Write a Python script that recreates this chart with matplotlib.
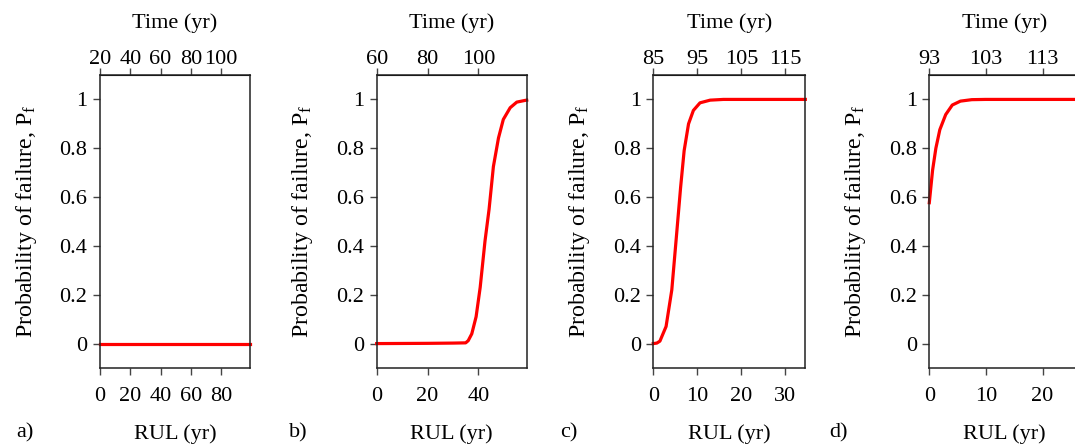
import numpy as np
import matplotlib.pyplot as plt

plt.rcParams['font.family'] = ['Liberation Serif', 'DejaVu Serif']
plt.rcParams['font.size'] = 16
plt.rcParams['mathtext.fontset'] = 'custom'
plt.rcParams['mathtext.rm'] = 'Liberation Serif'
plt.rcParams['mathtext.it'] = 'Liberation Serif:italic'

# Panel a: no failure at all
rul_a = [0, 20, 40, 60, 80, 99]
pf_a = [0, 0, 0, 0, 0, 0]

# Panel b
rul_b = [0, 10, 20, 30, 35, 36, 37.4, 39.1, 40.7, 42.6, 44.2, 45.9, 47.9,
         49.8, 52.5, 55.1, 58.4, 59]
pf_b = [0, 0.0005, 0.001, 0.002, 0.003, 0.012, 0.04, 0.11, 0.23, 0.42, 0.55,
        0.725, 0.842, 0.918, 0.966, 0.989, 0.996, 0.997]

# Panel c
rul_c = [0, 0.8, 1.5, 2.9, 4.2, 5.3, 6.2, 7.0, 8.0, 9.1, 10.6, 12.9, 15.9, 34.5]
pf_c = [0, 0.002, 0.01, 0.07, 0.22, 0.45, 0.64, 0.79, 0.90, 0.955, 0.986,
        0.997, 1.0, 1.0]

# Panel d
rul_d = [0, 0.58, 1.16, 1.86, 2.9, 4.06, 5.5, 7.5, 9.9, 26.5]
pf_d = [0.577, 0.71, 0.80, 0.876, 0.938, 0.977, 0.993, 0.999, 1.0, 1.0]

# time offset (Time = RUL + offset), x limits and tick values
offsets = [20, 60, 85, 93]
xmax = [99, 59, 34.5, 26.5]
rul_ticks = [[0, 20, 40, 60, 80], [0, 20, 40], [0, 10, 20, 30], [0, 10, 20]]
time_ticks = [[20, 40, 60, 80, 100], [60, 80, 100], [85, 95, 105, 115],
              [93, 103, 113]]
y_ticks = [0, 0.2, 0.4, 0.6, 0.8, 1]
y_ticklabels = ['0', '0.2', '0.4', '0.6', '0.8', '1']
letters = ['a)', 'b)', 'c)', 'd)']

ruls = [rul_a, rul_b, rul_c, rul_d]
pfs = [pf_a, pf_b, pf_c, pf_d]

fig = plt.figure(figsize=(10.75, 4.48), dpi=100)

lefts = [100, 376.7, 653.3, 929.3]
widths = [150, 150, 152, 150]
letter_x = [25, 298, 569, 838]

for i in range(4):
    ax = fig.add_axes([lefts[i] / 1075, 1 - 368 / 448, widths[i] / 1075, 293 / 448])
    ax.plot(ruls[i], pfs[i], color='red', lw=2.3, clip_on=False)
    ax.set_xlim(0, xmax[i])
    ax.set_ylim(-0.1, 1.1)
    ax.set_xticks(rul_ticks[i])
    ax.set_yticks(y_ticks)
    ax.set_yticklabels(y_ticklabels)
    ax.tick_params(direction='out', length=5, width=1, color='#444')
    ax.tick_params(axis='x', pad=8.5)
    ax.tick_params(axis='y', pad=4)
    for s in ax.spines.values():
        s.set_linewidth(1.1)
        s.set_color('#222')
    ax.set_xlabel('RUL (yr)', labelpad=13)
    ax.set_ylabel('Probability of failure, P$_\\mathrm{f}$', fontsize=17.2,
                  labelpad=15)

    off = offsets[i]
    sec = ax.secondary_xaxis('top', functions=(lambda x, o=off: x + o,
                                               lambda x, o=off: x - o))
    sec.set_xticks(time_ticks[i])
    sec.tick_params(direction='out', length=5, width=1, color='#444', pad=-1)
    sec.set_xlabel('Time (yr)', labelpad=16)

    fig.text(letter_x[i] / 1075, 1 - 437 / 448, letters[i], ha='center', va='baseline')

fig.savefig('out.png', dpi=100)
